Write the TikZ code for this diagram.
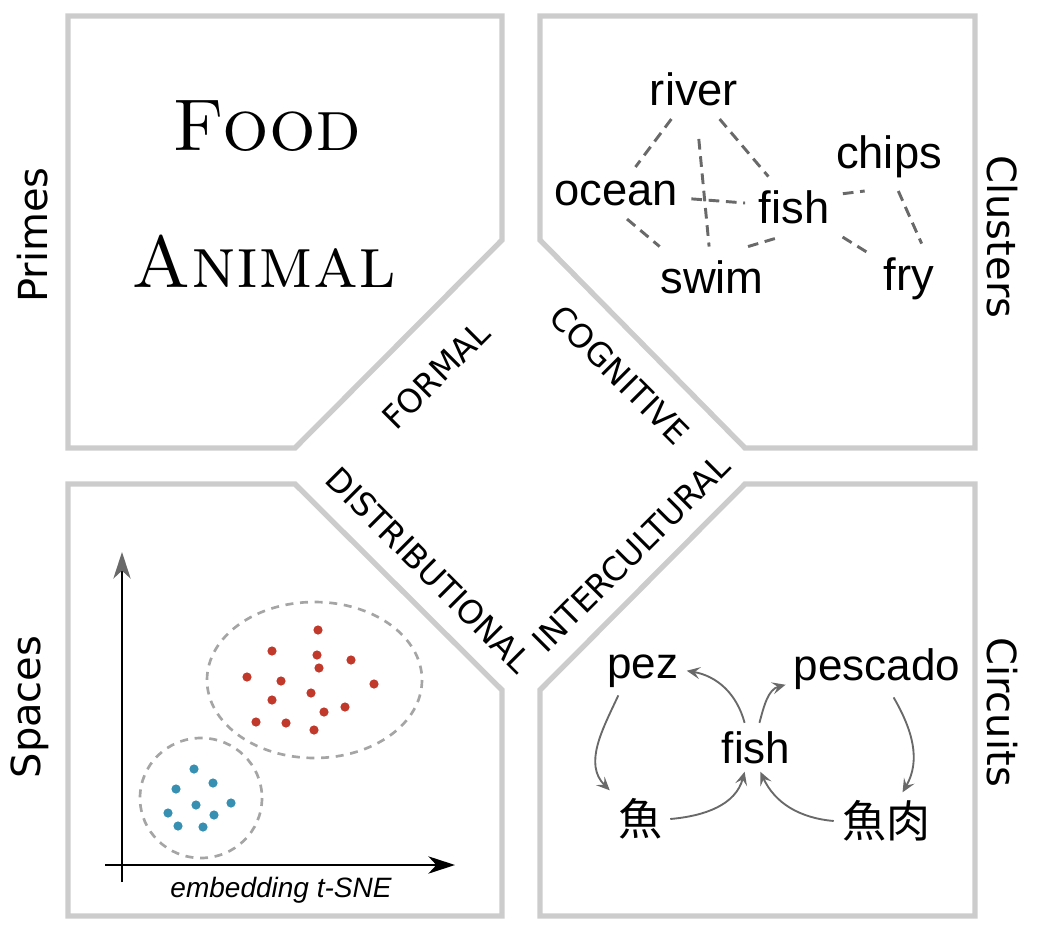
\documentclass[tikz,border=0pt]{standalone}
\usepackage{fontspec}
\newfontfamily\sidefont{DejaVu Sans}
\newfontfamily\wordfont{Liberation Sans}
\newfontfamily\cjkfont{Noto Sans CJK JP}
\usetikzlibrary{arrows.meta}
\definecolor{panelgray}{RGB}{204,204,204}
\definecolor{edgegray}{RGB}{105,105,105}
\definecolor{ringgray}{RGB}{165,165,165}
\definecolor{dotred}{RGB}{192,57,43}
\definecolor{dotblue}{RGB}{55,143,178}
\begin{document}
\begin{tikzpicture}[x=0.75pt,y=0.75pt,yscale=-1,xscale=1,
  panel/.style={draw=panelgray,line width=4pt,line join=miter},
  sidelabel/.style={font=\sidefont\fontsize{30}{36}\selectfont,inner sep=0pt},
  facet/.style={font=\sidefont\fontsize{24.5}{29}\selectfont,inner sep=0pt},
  prime/.style={font=\fontsize{55}{60}\selectfont\scshape,inner sep=0pt,anchor=base},
  word/.style={font=\wordfont\fontsize{34}{40}\selectfont,inner sep=10pt,anchor=base},
  cword/.style={font=\wordfont\fontsize{33}{40}\selectfont,inner sep=6pt,anchor=base},
  hanzi/.style={font=\cjkfont\fontsize{33}{40}\selectfont,inner sep=6pt},
  tie/.style={draw=edgegray,line width=2.2pt,dash pattern={on 8pt off 5pt}},
  hop/.style={draw=edgegray,line width=1.4pt,-{Stealth[length=10pt,width=9pt,inset=4pt]}},
  ring/.style={draw=ringgray,line width=2pt,dash pattern={on 6pt off 5pt}},
]
\useasboundingbox (0,0) rectangle (1040,946);

%Shape: Panels
\draw[panel] (68,16) -- (502,16) -- (502,240) -- (295,448) -- (68,448) -- cycle ;
\draw[panel] (540,16) -- (975,16) -- (975,448) -- (745,448) -- (540,240) -- cycle ;
\draw[panel] (68,484) -- (295,484) -- (502,690) -- (502,916) -- (68,916) -- cycle ;
\draw[panel] (540,690) -- (745,484) -- (975,484) -- (975,916) -- (540,916) -- cycle ;

% Text Node: side labels
\node[sidelabel,rotate=90] (primes) at (33,235) {Primes};
\node[sidelabel,rotate=-90] (clusters) at (1002,237) {Clusters};
\node[sidelabel,rotate=90] (spaces) at (30,707) {Spaces};
\node[sidelabel,rotate=-90] (circuits) at (1002,712) {Circuits};

% Text Node: facets
\node[facet,rotate=45] (formal) at (436,375) {FORMAL};
\node[facet,rotate=-45] (cognitive) at (620,375) {COGNITIVE};
\node[facet,rotate=-45] (distributional) at (429,570) {DISTRIBUTIONAL};
\node[facet,rotate=45] (intercultural) at (631,553) {INTERCULTURAL};

% Text Node: primes
\node[prime] (food) at (267,150) {Food};
\node[prime] (animal) at (264,287) {Animal};

% Text Node: clusters
\node[word] (river) at (694,105) {river};
\node[word] (ocean) at (616,205) {ocean};
\node[word] (fish) at (794,223) {fish};
\node[word] (chips) at (889,168) {chips};
\node[word] (swim) at (712,293) {swim};
\node[word] (fry) at (909,290) {fry};

%Straight Lines: cluster ties
\draw[tie] (river) -- (ocean);
\draw[tie,shorten <=15pt] (river) -- (swim);
\draw[tie] (river) -- (fish);
\draw[tie] (ocean) -- (fish);
\draw[tie] (ocean.-67) -- (swim.150);
\draw[tie] (swim.40) -- (fish.-115);
\draw[tie] (fish.15) -- (chips.-125);
\draw[tie] (fish) -- (fry);
\draw[tie] (chips.-75) -- (fry.70);

%Shape: t-SNE axes
\coordinate (ybot) at (122,882);
\coordinate (ytop) at (122,552);
\coordinate (xleft) at (105,865);
\coordinate (xright) at (455,865);
\draw[line width=1.2pt,-{Stealth[length=20pt,width=13pt,inset=6pt,color=edgegray]}] (ybot) -- (ytop);
\draw[line width=1.2pt,-{Stealth[length=20pt,width=13pt,inset=6pt]}] (xleft) -- (xright);
\node[font=\wordfont\itshape\fontsize{21}{25}\selectfont,anchor=base] (tsne) at (281,897) {embedding t-SNE};

%Shape: Ellipse
\draw[ring] (314.5,680) ellipse [x radius=107.5, y radius=78];
\draw[ring] (201,798) ellipse [x radius=61, y radius=60];

%Shape: dots
\foreach \px/\py in {318/630,272/651,317/655,351/660,319/668,247/677,281/681,374/684,311/693,272/700,345/707,324/712,256/722,286/723,314/730}
  \fill[dotred] (\px,\py) circle [radius=4.6];
\foreach \px/\py in {194/769,213/783,176/789,231/803,196/805,168/813,214/815,178/826,203/827}
  \fill[dotblue] (\px,\py) circle [radius=4.6];

% Text Node: circuits
\node[cword] (pez) at (643,678) {pez};
\node[cword] (pescado) at (877,680) {pescado};
\node[cword] (cfish) at (756,763) {fish};
\node[hanzi] (yu) at (640,819) {魚};
\node[hanzi] (yurou) at (886,821) {魚肉};

%Curve Lines: circuit hops
\draw[hop] (cfish.115) to[out=-105,in=10] (pez.east);
\draw[hop] (cfish.82) to[out=-75,in=165] (pescado.190);
\draw[hop] (pez.-135) to[out=115,in=-135] (yu.north west);
\draw[hop] (pescado.-60) to[out=60,in=-60] (yurou.60);
\draw[hop] (yu.east) to[out=-5,in=105] (cfish.-115);
\draw[hop] (yurou.west) to[out=185,in=65] (cfish.-80);
\end{tikzpicture}
\end{document}
